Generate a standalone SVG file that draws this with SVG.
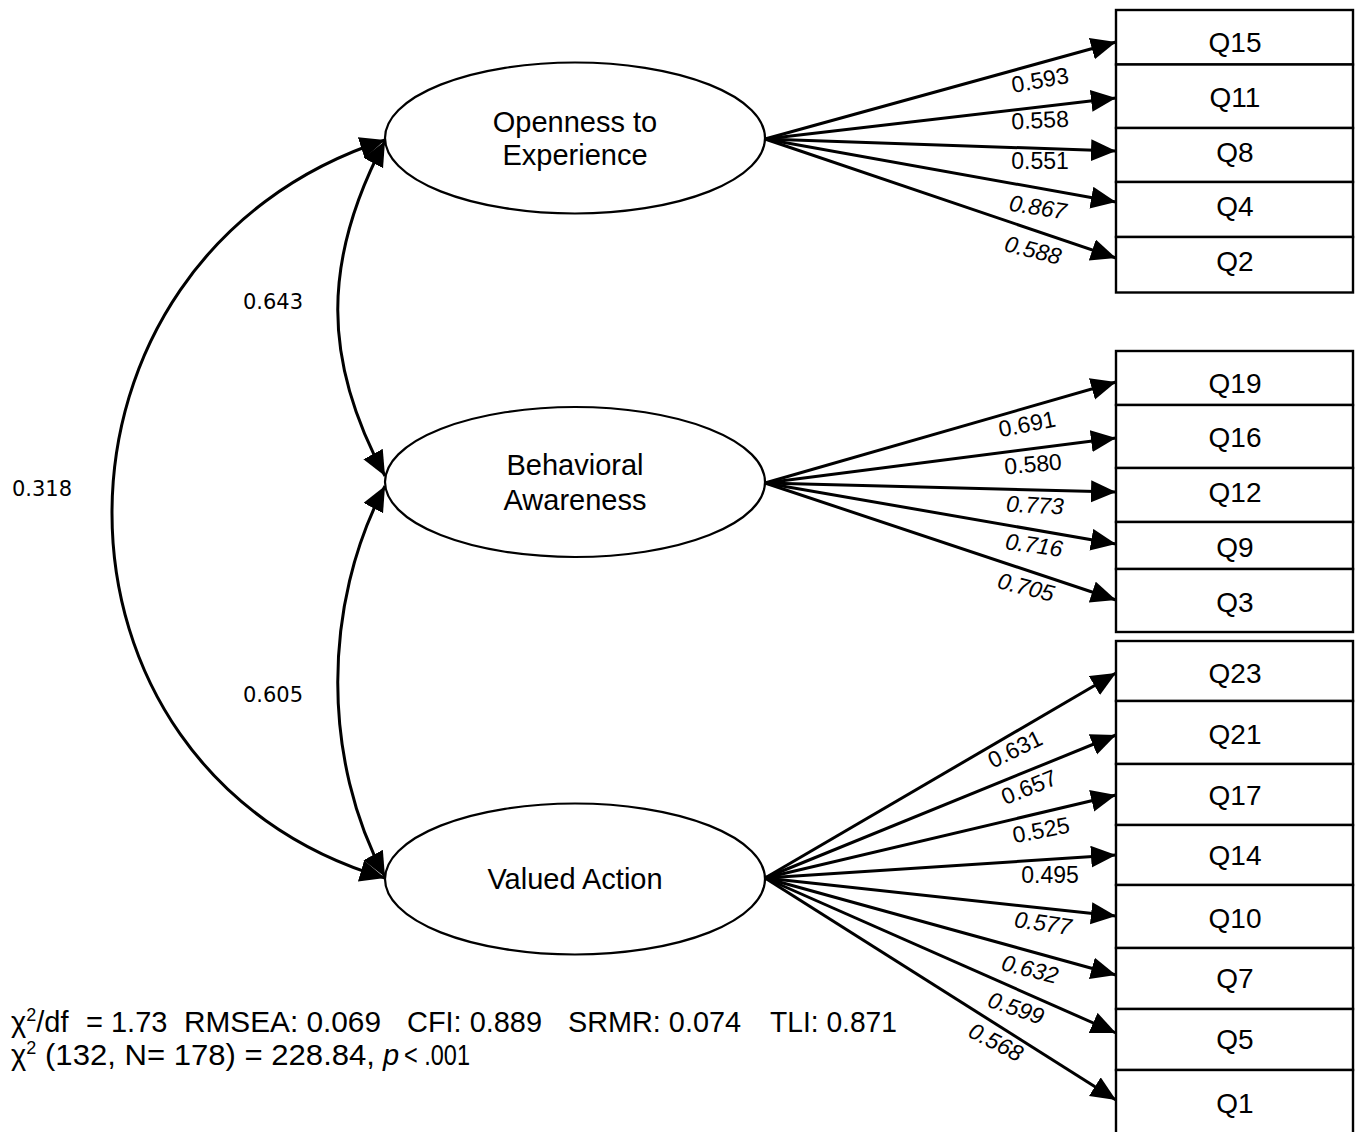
<svg xmlns="http://www.w3.org/2000/svg" width="1358" height="1132" viewBox="0 0 1358 1132">
<style>
text{font-family:"Liberation Sans",Arial,sans-serif;fill:#000}
.lat{fill:#fff;stroke:#000;stroke-width:2.2}
.box{fill:#fff;stroke:#000;stroke-width:2.4}
.ln{fill:none;stroke:#000;stroke-width:3;marker-end:url(#ah)}
.cov{fill:none;stroke:#000;stroke-width:3;marker-start:url(#ah);marker-end:url(#ah)}
.nm{font-size:29px;text-anchor:middle}
.bx{font-size:28px;text-anchor:middle}
.ld{font-size:23px;text-anchor:middle}
.it{font-style:italic}
.cv{font-family:"DejaVu Sans",sans-serif;font-size:21px;text-anchor:middle}
.ft{font-size:29px}
</style>
<defs>
<marker id="ah" markerWidth="26" markerHeight="24" refX="25" refY="11" orient="auto-start-reverse" markerUnits="userSpaceOnUse"><path d="M0,0 L25,11 L0,22 z" fill="#000"/></marker>
</defs>
<rect width="1358" height="1132" fill="#fff"/>
<g id="connectors">
<path class="cov" d="M385,140 C21,258 21,771 385,878"/>
<path class="cov" d="M385,141 C322,260 322,360 385,476"/>
<path class="cov" d="M385,486 C322,605 322,760 385,877"/>
<line class="ln" x1="765" y1="139" x2="1116" y2="42"/>
<line class="ln" x1="765" y1="139" x2="1116" y2="98"/>
<line class="ln" x1="765" y1="139" x2="1116" y2="151"/>
<line class="ln" x1="765" y1="139" x2="1116" y2="202"/>
<line class="ln" x1="765" y1="139" x2="1116" y2="258"/>
<line class="ln" x1="765" y1="483" x2="1116" y2="382"/>
<line class="ln" x1="765" y1="483" x2="1116" y2="438"/>
<line class="ln" x1="765" y1="483" x2="1116" y2="492"/>
<line class="ln" x1="765" y1="483" x2="1116" y2="544"/>
<line class="ln" x1="765" y1="483" x2="1116" y2="600"/>
<line class="ln" x1="765" y1="878" x2="1116" y2="673"/>
<line class="ln" x1="765" y1="878" x2="1116" y2="735"/>
<line class="ln" x1="765" y1="878" x2="1116" y2="795"/>
<line class="ln" x1="765" y1="878" x2="1116" y2="855"/>
<line class="ln" x1="765" y1="878" x2="1116" y2="916"/>
<line class="ln" x1="765" y1="878" x2="1116" y2="975"/>
<line class="ln" x1="765" y1="878" x2="1116" y2="1033"/>
<line class="ln" x1="765" y1="878" x2="1116" y2="1100"/>
<text class="cv" x="273" y="309">0.643</text>
<text class="cv" x="42" y="496">0.318</text>
<text class="cv" x="273" y="702">0.605</text>
<text class="ld" transform="translate(1040,80) rotate(-10)" y="8">0.593</text>
<text class="ld" transform="translate(1040,120) rotate(-3)" y="8">0.558</text>
<text class="ld" transform="translate(1040,161)" y="8">0.551</text>
<text class="ld it" transform="translate(1038,207) rotate(9)" y="8">0.867</text>
<text class="ld it" transform="translate(1033,250) rotate(14)" y="8">0.588</text>
<text class="ld" transform="translate(1027,424) rotate(-11)" y="8">0.691</text>
<text class="ld" transform="translate(1033,464) rotate(-5)" y="8">0.580</text>
<text class="ld it" transform="translate(1035,505) rotate(3)" y="8">0.773</text>
<text class="ld it" transform="translate(1034,545) rotate(8)" y="8">0.716</text>
<text class="ld it" transform="translate(1026,587) rotate(14)" y="8">0.705</text>
<text class="ld" transform="translate(1015,749) rotate(-26)" y="8">0.631</text>
<text class="ld" transform="translate(1029,787) rotate(-22)" y="8">0.657</text>
<text class="ld" transform="translate(1041,830) rotate(-11)" y="8">0.525</text>
<text class="ld" transform="translate(1050,875)" y="8">0.495</text>
<text class="ld it" transform="translate(1043,923) rotate(8)" y="8">0.577</text>
<text class="ld it" transform="translate(1030,969) rotate(14)" y="8">0.632</text>
<text class="ld it" transform="translate(1016,1008) rotate(19)" y="8">0.599</text>
<text class="ld it" transform="translate(996,1042) rotate(27)" y="8">0.568</text>
</g>
<g id="openness"><ellipse class="lat" cx="575" cy="138" rx="190" ry="75.5"/><text class="nm" x="575" y="132">Openness to</text><text class="nm" x="575" y="165">Experience</text></g>
<g id="behavioral"><ellipse class="lat" cx="575" cy="482" rx="190" ry="75"/><text class="nm" x="575" y="475">Behavioral</text><text class="nm" x="575" y="510">Awareness</text></g>
<g id="valued"><ellipse class="lat" cx="575" cy="879" rx="190" ry="75.5"/><text class="nm" x="575" y="889">Valued Action</text></g>
<g id="q15"><rect class="box" x="1116" y="10" width="237" height="54.5"/><text class="bx" x="1235" y="52">Q15</text></g>
<g id="q11"><rect class="box" x="1116" y="64.5" width="237" height="63.5"/><text class="bx" x="1235" y="107">Q11</text></g>
<g id="q8"><rect class="box" x="1116" y="128" width="237" height="54"/><text class="bx" x="1235" y="162">Q8</text></g>
<g id="q4"><rect class="box" x="1116" y="182" width="237" height="55"/><text class="bx" x="1235" y="216">Q4</text></g>
<g id="q2"><rect class="box" x="1116" y="237" width="237" height="55.5"/><text class="bx" x="1235" y="271">Q2</text></g>
<g id="q19"><rect class="box" x="1116" y="351" width="237" height="54"/><text class="bx" x="1235" y="392.5">Q19</text></g>
<g id="q16"><rect class="box" x="1116" y="405" width="237" height="63"/><text class="bx" x="1235" y="447">Q16</text></g>
<g id="q12"><rect class="box" x="1116" y="468" width="237" height="54"/><text class="bx" x="1235" y="502">Q12</text></g>
<g id="q9"><rect class="box" x="1116" y="522" width="237" height="47"/><text class="bx" x="1235" y="557">Q9</text></g>
<g id="q3"><rect class="box" x="1116" y="569" width="237" height="63"/><text class="bx" x="1235" y="611.5">Q3</text></g>
<g id="q23"><rect class="box" x="1116" y="641" width="237" height="60"/><text class="bx" x="1235" y="682.5">Q23</text></g>
<g id="q21"><rect class="box" x="1116" y="701" width="237" height="63"/><text class="bx" x="1235" y="744">Q21</text></g>
<g id="q17"><rect class="box" x="1116" y="764" width="237" height="61"/><text class="bx" x="1235" y="805">Q17</text></g>
<g id="q14"><rect class="box" x="1116" y="825" width="237" height="60"/><text class="bx" x="1235" y="865">Q14</text></g>
<g id="q10"><rect class="box" x="1116" y="885" width="237" height="63"/><text class="bx" x="1235" y="928">Q10</text></g>
<g id="q7"><rect class="box" x="1116" y="948" width="237" height="61"/><text class="bx" x="1235" y="988">Q7</text></g>
<g id="q5"><rect class="box" x="1116" y="1009" width="237" height="61"/><text class="bx" x="1235" y="1049">Q5</text></g>
<g id="q1"><rect class="box" x="1116" y="1070" width="237" height="70"/><text class="bx" x="1235" y="1112.5">Q1</text></g>
<g id="fit">
<text class="ft" x="11" y="1032">χ<tspan font-size="18" dy="-11">2</tspan><tspan dy="11">/df</tspan></text>
<text class="ft" x="86" y="1032">= 1.73</text>
<text class="ft" x="184" y="1032" textLength="197" lengthAdjust="spacingAndGlyphs">RMSEA: 0.069</text>
<text class="ft" x="407" y="1032" textLength="135" lengthAdjust="spacingAndGlyphs">CFI: 0.889</text>
<text class="ft" x="568" y="1032" textLength="173" lengthAdjust="spacingAndGlyphs">SRMR: 0.074</text>
<text class="ft" x="770" y="1032" textLength="127" lengthAdjust="spacingAndGlyphs">TLI: 0.871</text>
<text class="ft" x="11" y="1065">χ<tspan font-size="18" dy="-11">2</tspan></text>
<text class="ft" x="45" y="1065" textLength="330" lengthAdjust="spacingAndGlyphs">(132, N= 178) = 228.84,</text>
<text class="ft it" x="383" y="1065">p</text>
<text class="ft" x="404" y="1065" textLength="66" lengthAdjust="spacingAndGlyphs">&lt; .001</text>
</g>
</svg>
